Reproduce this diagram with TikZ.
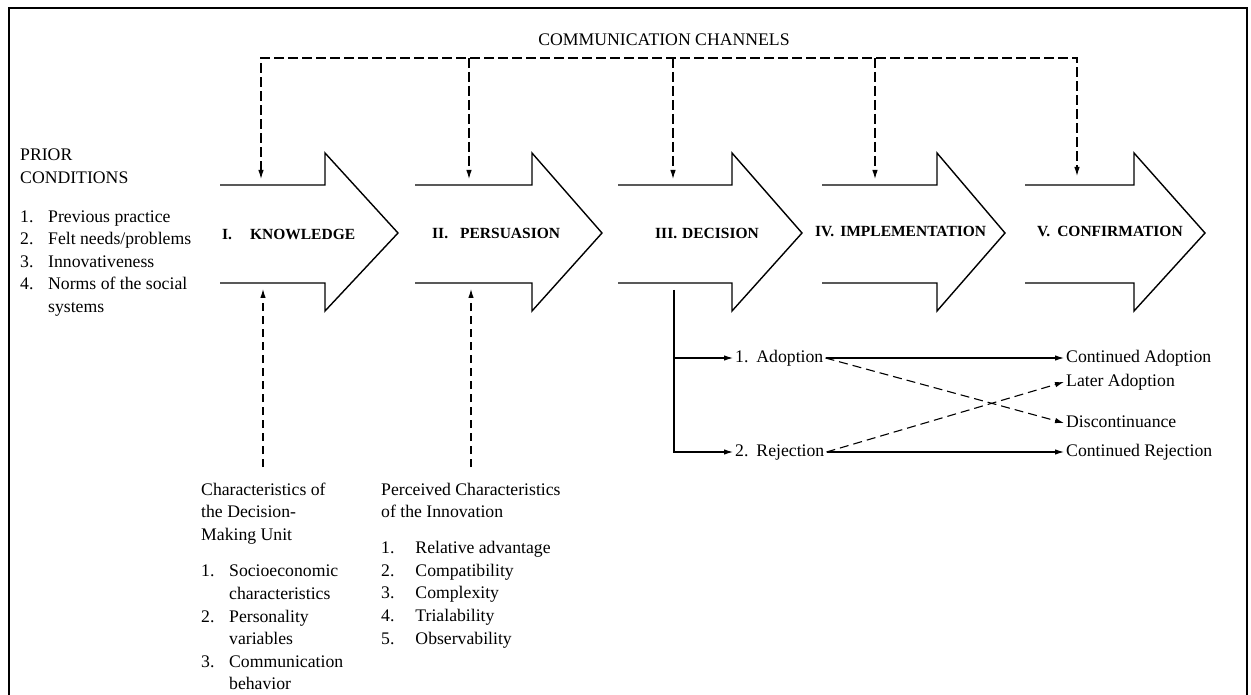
\documentclass[tikz,border=0pt]{standalone}
\usepackage{fontspec}
\setmainfont{Liberation Serif}
\usetikzlibrary{arrows.meta}
\begin{document}
\begin{tikzpicture}[x=1pt,y=-1pt,
  bigarrow/.style={line width=1.4pt, line join=miter},
  conn/.style={line width=1.1pt},
  dashtop/.style={line width=1.1pt, dash pattern=on 10pt off 4pt},
  dashup/.style={line width=1.1pt, dash pattern=on 8pt off 5pt},
  dashx/.style={line width=1.1pt, dash pattern=on 9pt off 5pt},
  tip/.style={-{Latex[length=9pt,width=5.5pt]}},
  tips2/.style={{Latex[length=9pt,width=5.5pt]}-{Latex[length=9pt,width=5.5pt]}},
  lbl/.style={font=\fontsize{15.5}{18}\selectfont\bfseries, inner sep=0pt, anchor=base west},
  txt/.style={font=\fontsize{17.7}{22.6}\selectfont, inner sep=0pt, anchor=base west},
  outc/.style={font=\fontsize{17.7}{22.6}\selectfont, inner sep=2pt, text height=12pt, text depth=4pt, anchor=west},
]
\useasboundingbox (0,0) rectangle (1251,695);
\fill[white] (0,0) rectangle (1251,695);
% frame
\draw[line width=2pt] (8.5,700) -- (8.5,8) -- (1246.5,8) -- (1246.5,700);

% big stage arrows
\foreach \a/\b/\c in {220/325/398, 415/532/602, 618/732/802, 822/937/1005, 1025/1134/1205}{
  \draw[bigarrow] (\a,185) -- (\b,185) -- (\b,153) -- (\c,233) -- (\b,311) -- (\b,283) -- (\a,283);
}

% stage labels
\node[lbl] (lk) at (222,240) {I.\hspace{18pt}KNOWLEDGE};
\node[lbl] (lp) at (432,239) {II.\hspace{12pt}PERSUASION};
\node[lbl] (ld) at (655,239) {III.\hspace{5pt}DECISION};
\node[lbl] (li) at (815,237) {IV.\hspace{6pt}IMPLEMENTATION};
\node[lbl] (lc) at (1037,237) {V.\hspace{7pt}CONFIRMATION};

% communication channels
\node[txt, anchor=base] (cch) at (664,46) {COMMUNICATION CHANNELS};
\coordinate (cc1) at (261,58);
\coordinate (cc2) at (469,58);
\coordinate (cc3) at (673,58);
\coordinate (cc4) at (875,58);
\coordinate (cc5) at (1077,58);
\coordinate (t1) at (261,179);
\coordinate (t2) at (469,179);
\coordinate (t3) at (673,179);
\coordinate (t4) at (875,179);
\coordinate (t5) at (1077,176);
\draw[dashtop, tips2] (t1) -- (cc1) -- (cc5) -- (t5);
\draw[dashtop, tip] (cc2) -- (t2);
\draw[dashtop, tip] (cc3) -- (t3);
\draw[dashtop, tip] (cc4) -- (t4);

% prior conditions
\node[txt] (prior) at (20,161) {\begin{tabular}[t]{@{}l@{\hspace{14.7pt}}l@{}}
\multicolumn{2}{@{}l@{}}{PRIOR}\\
\multicolumn{2}{@{}l@{}}{CONDITIONS}\\[16pt]
1. & Previous practice\\
2. & Felt needs/problems\\
3. & Innovativeness\\
4. & Norms of the social\\
   & systems
\end{tabular}};

% characteristics of decision-making unit
\coordinate (b1) at (263,467);
\coordinate (u1) at (263,289);
\draw[dashup, tip] (b1) -- (u1);
\node[txt] (dmu) at (201,495) {\begin{tabular}[t]{@{}l@{\hspace{14.7pt}}l@{}}
\multicolumn{2}{@{}l@{}}{Characteristics of}\\
\multicolumn{2}{@{}l@{}}{the Decision-}\\
\multicolumn{2}{@{}l@{}}{Making Unit}\\[14pt]
1. & Socioeconomic\\
   & characteristics\\
2. & Personality\\
   & variables\\
3. & Communication\\
   & behavior
\end{tabular}};

% perceived characteristics
\coordinate (b2) at (471,467);
\coordinate (u2) at (471,289);
\draw[dashup, tip] (b2) -- (u2);
\node[txt] (pci) at (381,495) {\begin{tabular}[t]{@{}l@{\hspace{21pt}}l@{}}
\multicolumn{2}{@{}l@{}}{Perceived Characteristics}\\
\multicolumn{2}{@{}l@{}}{of the Innovation}\\[13.5pt]
1. & Relative advantage\\
2. & Compatibility\\
3. & Complexity\\
4. & Trialability\\
5. & Observability
\end{tabular}};

% decision outcomes
\coordinate (dtop) at (674,290);
\node[outc] (ad) at (733,358) {1.\hspace{8pt}Adoption};
\node[outc] (rj) at (733,452) {2.\hspace{8pt}Rejection};
\node[outc] (ca) at (1064,358) {Continued Adoption};
\node[outc] (la) at (1064,382) {Later Adoption};
\node[outc] (dc) at (1064,423) {Discontinuance};
\node[outc] (cr) at (1064,452) {Continued Rejection};
\draw[conn, tip] (dtop) |- (rj.west);
\draw[conn, tip] (dtop |- ad.west) -- (ad.west);
\draw[conn, tip] (ad.east) -- (ca.west);
\draw[conn, tip] (rj.east) -- (cr.west);
\draw[dashx, tip] (ad.east) -- (dc.west);
\draw[dashx, tip] (rj.east) -- (la.west);
\end{tikzpicture}
\end{document}
